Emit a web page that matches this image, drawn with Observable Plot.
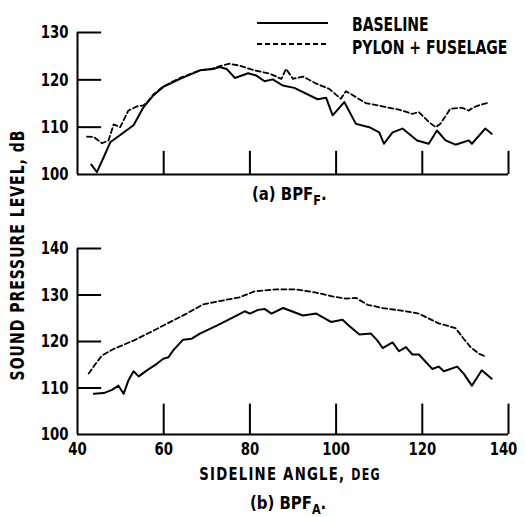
<!DOCTYPE html>
<html>
<head>
<meta charset="utf-8">
<script src="https://cdn.jsdelivr.net/npm/d3@7"></script>
<script src="https://cdn.jsdelivr.net/npm/@observablehq/plot@0.6"></script>
<style>
  html, body { margin: 0; padding: 0; background: #fff; }
  #c { position: relative; width: 525px; height: 517px; background: #fff; overflow: hidden;
       font-family: "DejaVu Sans Condensed", "DejaVu Sans", sans-serif; font-weight: bold; color: #000; }
  .t { position: absolute; white-space: nowrap; line-height: 1; transform-origin: 0 0; }
  sub { font-size: 0.75em; vertical-align: -0.35em; }
</style>
</head>
<body>
<div id="c">
  <div id="top" style="position:absolute;left:0;top:0"></div>
  <div id="bot" style="position:absolute;left:0;top:210px"></div>
</div>
<script>
// ---------- data ----------
const xTicks = [40, 60, 80, 100, 120, 140];
const topYTicks = [100, 110, 120, 130];
const botYTicks = [100, 110, 120, 130, 140];

// (a) BPF_F
const aBaseDeg = [43.2,44.5,46.1,47.6,50.3,53.0,55.3,57.6,59.9,63.8,68.4,71.5,73.0,74.6,76.5,79.6,81.5,83.4,85.3,87.6,90.3,95.7,97.7,99.2,101.9,104.6,107.7,110.0,111.1,113.1,115.4,118.8,121.5,123.4,125.4,127.7,130.8,131.5,134.6,136.1];
const aBaseDb  = [102.1,100.5,103.7,106.8,108.6,110.4,114.2,116.7,118.5,120.2,122.0,122.3,122.7,122.3,120.4,121.4,120.9,119.7,120.1,118.8,118.3,115.9,116.2,112.5,115.3,110.7,110.0,108.9,106.5,108.9,109.7,107.2,106.5,109.3,107.2,106.3,107.2,106.5,109.7,108.6];
const aPylDeg  = [42.2,43.8,45.7,47.2,48.4,49.9,51.8,53.8,55.3,56.5,57.6,59.9,63.8,68.4,71.5,73.0,75.3,77.6,80.7,84.6,87.3,88.4,90.0,92.3,95.4,98.4,101.1,102.3,106.9,110.7,114.6,117.7,119.2,121.5,123.1,124.2,126.5,129.2,130.8,131.9,133.1,135.0];
const aPylDb   = [108.0,107.9,106.6,107.2,110.6,110.0,113.5,114.4,114.6,115.6,116.9,118.6,120.4,122.0,122.4,122.9,123.4,123.0,122.1,121.3,120.2,122.3,120.2,120.7,119.2,118.1,116.0,117.6,115.1,114.4,113.7,112.8,113.2,111.1,110.0,110.7,113.9,114.1,113.5,114.2,114.6,115.1];

// (b) BPF_A
const bBaseDeg = [43.8,46.1,48.0,49.5,50.7,51.8,53.0,54.2,56.1,58.4,59.9,61.1,62.2,64.5,66.5,68.4,72.3,76.1,78.8,80.0,81.9,83.4,85.0,87.7,92.3,95.4,98.8,101.5,103.0,105.4,108.1,109.6,110.8,113.1,114.6,116.2,117.7,119.2,122.3,123.8,125.0,128.1,129.6,131.5,133.8,136.1];
const bBaseDb  = [108.75,108.9,109.6,110.5,108.75,111.6,113.6,112.5,113.8,115.2,116.3,116.6,118.1,120.4,120.6,121.7,123.4,125.2,126.5,126.0,126.8,127.0,126.0,127.2,125.6,126.0,124.2,124.7,123.4,121.5,121.7,120.2,118.6,119.8,117.9,118.8,117.2,117.2,114.1,114.6,113.6,114.6,113.1,110.5,113.8,112.0];
const bPylDeg  = [42.6,44.2,45.7,48.4,53.0,56.9,60.7,65.3,69.2,73.0,77.6,81.1,86.1,90.7,95.4,99.2,102.3,104.6,107.3,110.8,116.2,119.2,123.8,127.7,129.6,131.2,133.1,134.6];
const bPylDb   = [113.1,115.2,117.0,118.4,120.2,122.0,123.8,126.0,128.0,128.7,129.5,130.8,131.2,131.2,130.5,129.7,129.2,129.4,127.9,127.2,126.5,126.0,123.9,122.9,120.6,118.8,117.4,116.8];

const legendLabels = ["BASELINE", "PYLON + FUSELAGE"];

// ---------- helpers ----------
const zip = (xs, ys) => xs.map((x, i) => ({x, y: ys[i]}));
const FONT = '"DejaVu Sans Condensed", "DejaVu Sans", sans-serif';
const DASH = "5,3";
const SQUEEZE = 0.82;

function panel({yDomain, yTicks, height, marginTop, marginBottom, base, pyl, showX}) {
  const xTickLen = 4.9 * (yDomain[1] - yDomain[0]) / 30; // ~23px in data units
  const yTickLen = 5.6;                                    // ~24px in data units
  const inner = yTicks.filter(v => v > yDomain[0]);
  const innerX = xTicks.filter(v => v > 40);
  const marks = [
    Plot.ruleX([40], {y1: yDomain[0], y2: yDomain[1], strokeWidth: 2}),
    Plot.ruleY([yDomain[0]], {x1: 40, x2: 140, strokeWidth: 2}),
    Plot.ruleY(inner, {x1: 40, x2: 40 + yTickLen, strokeWidth: 2}),
    Plot.ruleX(innerX, {y1: yDomain[0], y2: yDomain[0] + xTickLen, strokeWidth: 2}),
    Plot.axisY({ticks: yTicks, tickSize: 0, tickPadding: 9, fontSize: 18, tickFormat: d => d, fill: "#000"}),
    Plot.line(base, {x: "x", y: "y", stroke: "#000", strokeWidth: 2}),
    Plot.line(pyl, {x: "x", y: "y", stroke: "#000", strokeWidth: 1.8, strokeDasharray: DASH})
  ];
  if (showX) {
    const last = xTicks[xTicks.length - 1];
    marks.push(Plot.axisX({ticks: xTicks.filter(v => v !== last), tickSize: 0, tickPadding: 8, fontSize: 18, tickFormat: d => d}));
    marks.push(Plot.axisX({ticks: [last], tickSize: 0, tickPadding: 8, fontSize: 18, dx: -5, tickFormat: d => d, label: null}));
  } else {
    marks.push(Plot.axisX({ticks: [], tickSize: 0, label: null}));
  }
  return Plot.plot({
    width: 525, height, marginLeft: 77, marginRight: 17, marginTop, marginBottom,
    style: {fontFamily: FONT, fontWeight: "bold", background: "#fff", color: "#000", overflow: "visible"},
    x: {domain: [40, 140], label: null},
    y: {domain: yDomain, label: null},
    marks
  });
}

function squeezeTexts(svg) {
  svg.querySelectorAll("text").forEach(t => {
    const len = t.getComputedTextLength();
    if (len > 0) {
      t.setAttribute("textLength", (len * SQUEEZE).toFixed(2));
      t.setAttribute("lengthAdjust", "spacingAndGlyphs");
    }
  });
}

const topSvg = panel({
  yDomain: [100, 130], yTicks: topYTicks, height: 200, marginTop: 32, marginBottom: 26,
  base: zip(aBaseDeg, aBaseDb), pyl: zip(aPylDeg, aPylDb), showX: false
});
document.getElementById("top").append(topSvg);
squeezeTexts(topSvg);
const botSvg = panel({
  yDomain: [100, 140], yTicks: botYTicks, height: 254, marginTop: 38, marginBottom: 30,
  base: zip(bBaseDeg, bBaseDb), pyl: zip(bPylDeg, bPylDb), showX: true
});
document.getElementById("bot").append(botSvg);
squeezeTexts(botSvg);

// ---------- text & legend ----------
const c = document.getElementById("c");
function addText(html, style) {
  const d = document.createElement("div");
  d.className = "t";
  d.innerHTML = html;
  Object.assign(d.style, style);
  c.append(d);
  return d;
}
// legend
const leg = document.createElementNS("http://www.w3.org/2000/svg", "svg");
leg.setAttribute("width", 80); leg.setAttribute("height", 40);
Object.assign(leg.style, {position: "absolute", left: "255px", top: "12px"});
leg.innerHTML = `<line x1="2" x2="73" y1="11" y2="11" stroke="#000" stroke-width="1.8"/>
<line x1="2" x2="73" y1="32" y2="32" stroke="#000" stroke-width="1.8" stroke-dasharray="${DASH}"/>`;
c.append(leg);
addText(legendLabels[0], {left: "352px", top: "15px", fontSize: "19px", transform: `scaleX(${SQUEEZE})`});
addText(legendLabels[1], {left: "352px", top: "38px", fontSize: "19px", transform: `scaleX(${SQUEEZE})`});

// y axis title
addText("SOUND PRESSURE LEVEL, dB", {left: "17px", top: "255px", fontSize: "19px", letterSpacing: "1.2px",
  transformOrigin: "50% 50%", transform: `translate(-50%,-50%) rotate(-90deg) scaleX(${SQUEEZE})`});

// captions
addText("(a) BPF<sub>F</sub>.", {left: "252px", top: "185px", fontSize: "18px", transform: "scaleX(0.92)"});
addText('SIDELINE ANGLE, <span style="font-size:15px">DEG</span>', {left: "290px", top: "465px", fontSize: "18px", letterSpacing: "1.5px",
  transformOrigin: "50% 0", transform: `translateX(-50%) scaleX(${SQUEEZE})`});
addText("(b) BPF<sub>A</sub>.", {left: "250px", top: "494px", fontSize: "18px", transform: "scaleX(0.92)"});
</script>
</body>
</html>
